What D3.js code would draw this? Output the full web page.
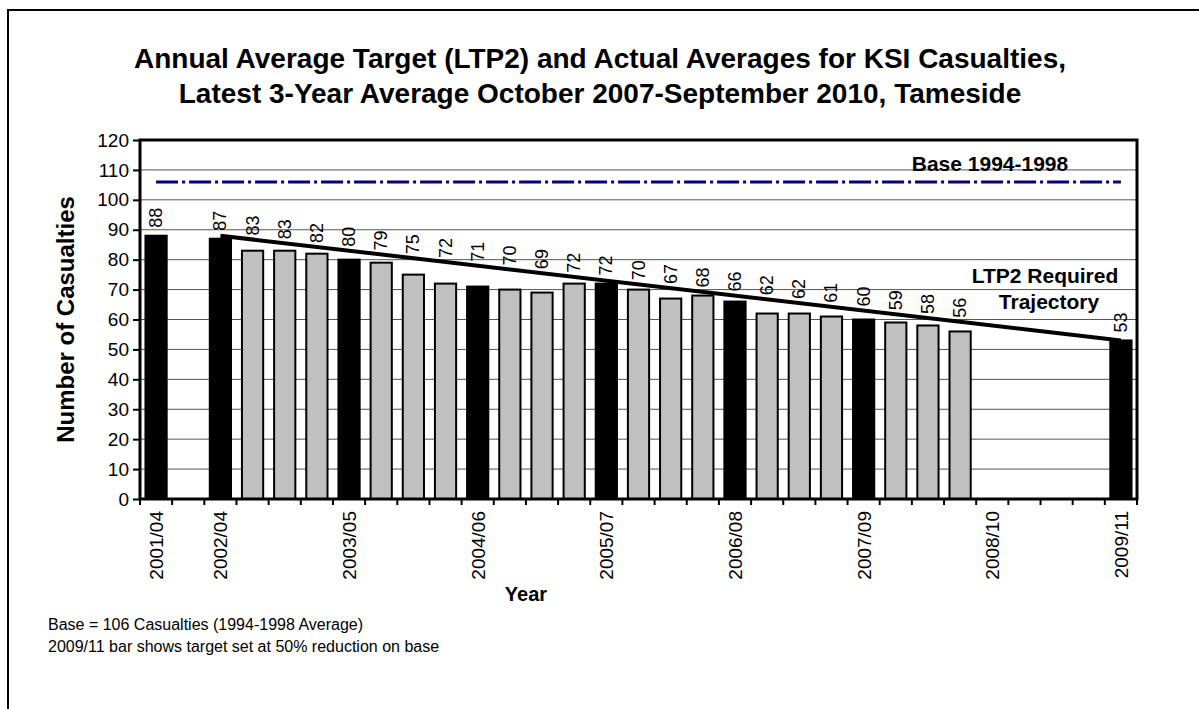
<!DOCTYPE html>
<html>
<head>
<meta charset="utf-8">
<script src="https://cdn.jsdelivr.net/npm/d3@7"></script>
<style>
  body { margin: 0; background: #fff; }
  svg { display: block; font-family: "Liberation Sans", Arial, sans-serif; }
</style>
</head>
<body>
<script>
// one slot per rolling period, only the annual ones get a label
var periods = ["2001/04", "", "2002/04", "", "", "", "2003/05", "", "", "", "2004/06", "", "", "",
    "2005/07", "", "", "", "2006/08", "", "", "", "2007/09", "", "", "", "2008/10", "", "", "", "2009/11"];
var casualties = [88, null, 87, 83, 83, 82, 80, 79, 75, 72, 71, 70, 69, 72,
    72, 70, 67, 68, 66, 62, 62, 61, 60, 59, 58, 56, null, null, null, null, 53];
var baseValue = 106;
var trajectory = [{slot: 2, value: 88}, {slot: 30, value: 53}];
var yTicks = [0, 10, 20, 30, 40, 50, 60, 70, 80, 90, 100, 110, 120];

var width = 1199, height = 709;
var margin = {left: 140, top: 140, right: 62, bottom: 210};

var svg = d3.select("body").append("svg").attr("width", width).attr("height", height);

// outer frame, runs off the right and bottom of the picture
svg.append("rect")
    .attr("x", 8).attr("y", 10)
    .attr("width", 1300).attr("height", 800)
    .attr("fill", "none").attr("stroke", "black").attr("stroke-width", 2);

var x = d3.scaleBand()
    .domain(d3.range(periods.length))
    .range([margin.left, width - margin.right])
    .paddingInner(0.34).paddingOuter(0.17);
var y = d3.scaleLinear().domain([0, 120]).range([height - margin.bottom, margin.top]);

var plotL = margin.left, plotR = width - margin.right,
    plotT = margin.top, plotB = height - margin.bottom;
var step = x.step();
var cx = (i) => x(i) + x.bandwidth() / 2;

// trajectory value at a slot (straight line between the two end points)
var lineAt = d3.scaleLinear()
    .domain([trajectory[0].slot, trajectory[1].slot])
    .range([trajectory[0].value, trajectory[1].value]);

// gridlines
svg.append("g")
    .selectAll("line")
    .data(yTicks.filter((d) => d > 0 && d < 120))
    .enter().append("line")
    .attr("x1", plotL).attr("x2", plotR)
    .attr("y1", (d) => y(d)).attr("y2", (d) => y(d))
    .attr("stroke", "#555").attr("stroke-width", 1);

// bars
var bars = casualties.map((v, i) => ({i: i, v: v})).filter((d) => d.v != null);
svg.append("g")
    .selectAll("rect")
    .data(bars)
    .enter().append("rect")
    .attr("x", (d) => x(d.i))
    .attr("width", x.bandwidth())
    .attr("y", (d) => y(d.v))
    .attr("height", (d) => y(0) - y(d.v))
    .attr("fill", (d) => periods[d.i] != "" ? "black" : "#c0c0c0")
    .attr("stroke", "black")
    .attr("stroke-width", 2);

// base line
svg.append("line")
    .attr("x1", cx(0))
    .attr("x2", cx(periods.length - 1))
    .attr("y1", y(baseValue)).attr("y2", y(baseValue))
    .attr("stroke", "#000080").attr("stroke-width", 3)
    .attr("stroke-dasharray", "22,4,3,4");

// LTP2 trajectory
svg.append("line")
    .attr("x1", cx(trajectory[0].slot))
    .attr("y1", y(trajectory[0].value))
    .attr("x2", cx(trajectory[1].slot))
    .attr("y2", y(trajectory[1].value))
    .attr("stroke", "black").attr("stroke-width", 4);

// value labels, kept above the bar and the trajectory
function labelY(d) {
    var top = y(d.v) - 8;
    if (d.i >= trajectory[0].slot && d.i <= trajectory[1].slot) {
        top = Math.min(top, y(lineAt(d.i)) - 4);
    }
    return top;
}
svg.append("g")
    .selectAll("text")
    .data(bars)
    .enter().append("text")
    .attr("transform", (d) => "translate(" + (cx(d.i) + 6) + "," + labelY(d) + ") rotate(-90)")
    .attr("font-size", 18)
    .text((d) => d.v);

// plot frame
svg.append("rect")
    .attr("x", plotL).attr("y", plotT)
    .attr("width", plotR - plotL).attr("height", plotB - plotT)
    .attr("fill", "none").attr("stroke", "black").attr("stroke-width", 3);

// y axis
var yAxis = svg.append("g")
    .attr("transform", "translate(" + plotL + ",0)")
    .call(d3.axisLeft(y).tickValues(yTicks).tickSize(7).tickPadding(4));
yAxis.select(".domain").remove();
yAxis.selectAll("line").attr("stroke-width", 2);
yAxis.selectAll("text").attr("font-size", 19).attr("font-family", "Liberation Sans, Arial, sans-serif").attr("fill", "black");

// x axis: ticks sit on slot boundaries
svg.append("g")
    .selectAll("line")
    .data(d3.range(periods.length + 1))
    .enter().append("line")
    .attr("x1", (d) => plotL + d * step).attr("x2", (d) => plotL + d * step)
    .attr("y1", plotB).attr("y2", plotB + 6)
    .attr("stroke", "black").attr("stroke-width", 2);

svg.append("g")
    .selectAll("text")
    .data(periods.map((p, i) => ({p: p, i: i})).filter((d) => d.p != ""))
    .enter().append("text")
    .attr("transform", (d) => "translate(" + (cx(d.i) + 7) + "," + (plotB + 12) + ") rotate(-90)")
    .attr("text-anchor", "end")
    .attr("font-size", 19)
    .text((d) => d.p);

// titles
var title = svg.append("text")
    .attr("text-anchor", "middle")
    .attr("font-size", 28).attr("font-weight", "bold");
title.append("tspan").attr("x", 600).attr("y", 68)
    .text("Annual Average Target (LTP2) and Actual Averages for KSI Casualties,");
title.append("tspan").attr("x", 600).attr("y", 103)
    .text("Latest 3-Year Average October 2007-September 2010, Tameside");

svg.append("text")
    .attr("transform", "translate(74," + ((plotT + plotB) / 2) + ") rotate(-90)")
    .attr("text-anchor", "middle")
    .attr("font-size", 24).attr("font-weight", "bold")
    .text("Number of Casualties");

svg.append("text")
    .attr("x", 526).attr("y", 601)
    .attr("text-anchor", "middle")
    .attr("font-size", 20).attr("font-weight", "bold")
    .text("Year");

svg.append("text")
    .attr("x", 990).attr("y", 171)
    .attr("text-anchor", "middle")
    .attr("font-size", 21).attr("font-weight", "bold")
    .text("Base 1994-1998");

var ltp = svg.append("text")
    .attr("text-anchor", "middle")
    .attr("font-size", 21).attr("font-weight", "bold");
ltp.append("tspan").attr("x", 1045).attr("y", 283).text("LTP2 Required");
ltp.append("tspan").attr("x", 1049).attr("y", 309).text("Trajectory");

// footnotes
svg.append("text")
    .attr("x", 48).attr("y", 630)
    .attr("font-size", 16)
    .text("Base = 106 Casualties (1994-1998 Average)");
svg.append("text")
    .attr("x", 48).attr("y", 652)
    .attr("font-size", 16)
    .text("2009/11 bar shows target set at 50% reduction on base");
</script>
</body>
</html>
